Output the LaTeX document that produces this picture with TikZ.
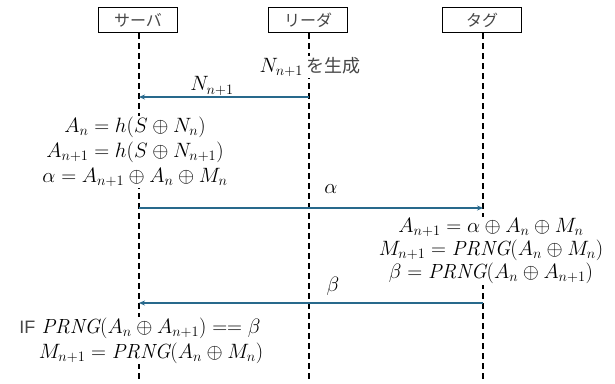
\documentclass[tikz,border=0pt]{standalone}
\usepackage{fontspec}
\setsansfont{Liberation Sans}
\newfontfamily\jpfont{Noto Sans CJK JP}
\usetikzlibrary{arrows.meta}
\definecolor{msgblue}{RGB}{40,105,140}
\definecolor{jgray}{RGB}{70,70,70}
\begin{document}
\begin{tikzpicture}[x=1pt,y=-1pt,
  actor/.style={draw,line width=1.6pt,minimum width=79pt,minimum height=25pt,inner sep=0pt,font=\jpfont\fontsize{16}{16}\selectfont,text=jgray},
  life/.style={line width=1.5pt,dash pattern=on 6pt off 4pt},
  lifethick/.style={line width=2.6pt,dash pattern=on 6pt off 4pt},
  msg/.style={draw=msgblue,line width=1.3pt,-{Stealth[length=6pt,width=5pt]}},
  eq/.style={fill=white,inner sep=1pt,align=center},
  lbl/.style={font=\fontsize{20.5}{24}\selectfont,inner sep=1pt}]
\useasboundingbox (0,0) rectangle (615,383);
\node[actor] (sv) at (138,20) {サーバ};
\node[actor] (rd) at (308,20) {リーダ};
\node[actor] (tg) at (482,20) {タグ};
\coordinate (svend) at (139,383);
\coordinate (rdend) at (309,383);
\coordinate (tgend) at (483,383);
\draw[life] (sv.south -| svend) -- (svend);
\draw[lifethick] (rd.south -| rdend) -- (rdend);
\draw[life] (tg.south -| tgend) -- (tgend);
% message 1
\coordinate (r1) at (309,97);
\coordinate (s1) at (139,97);
\node[lbl,fill=white] (gen) at (310,67) {$N_{n+1}$\,{\jpfont\fontsize{18}{20}\selectfont\color{jgray}を生成}};
\draw[msg] (r1) -- (s1);
\node[lbl] (l1) at (212,86) {$N_{n+1}$};
% server calc
\node[eq,font=\fontsize{20.5}{25}\selectfont] (sc) at (135,152) {$A_n = h(S\oplus N_n)$\\ $A_{n+1} = h(S\oplus N_{n+1})$\\ $\alpha = A_{n+1}\oplus A_n\oplus M_n$};
% message 2
\coordinate (s2) at (139,208);
\coordinate (t2) at (483,208);
\draw[msg] (s2) -- (t2);
\node[lbl] (l2) at (331,189) {$\alpha$};
% tag calc
\node[eq,font=\fontsize{20.5}{23}\selectfont] (tc) at (491,251) {$A_{n+1} = \alpha\oplus A_n\oplus M_n$\\ $M_{n+1} = \mathit{PRNG}(A_n\oplus M_n)$\\ $\beta = \mathit{PRNG}(A_n\oplus A_{n+1})$};
% message 3
\coordinate (t3) at (483,303);
\coordinate (s3) at (139,303);
\draw[msg] (t3) -- (s3);
\node[lbl] (l3) at (333,286) {$\beta$};
% server verify
\node[lbl,fill=white] (v1) at (140,328) {{\sffamily\fontsize{18}{20}\selectfont\color{jgray}IF} $\mathit{PRNG}(A_n\oplus A_{n+1}) == \beta$};
\node[lbl,fill=white] (v2) at (151,353) {$M_{n+1} = \mathit{PRNG}(A_n\oplus M_n)$};
\end{tikzpicture}
\end{document}
